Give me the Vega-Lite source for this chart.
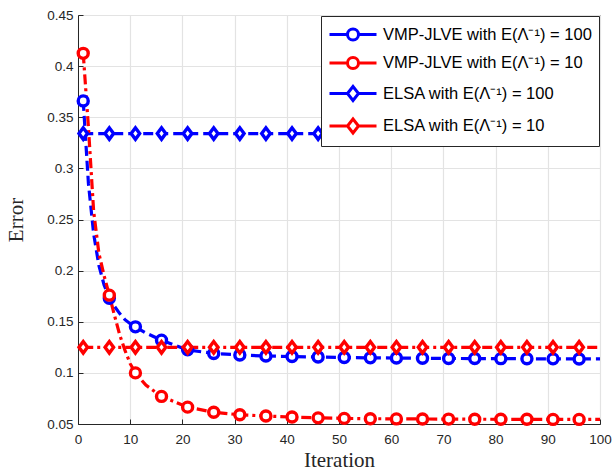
{
  "$schema": "https://vega.github.io/schema/vega-lite/v6.json",
  "autosize": "none",
  "width": 522,
  "height": 409,
  "padding": {"left": 78, "top": 15, "right": 14, "bottom": 49},
  "background": "white",
  "config": {
    "view": {"stroke": "#262626", "strokeWidth": 1},
    "font": "Liberation Sans"
  },
  "data": {
    "values": [
      {"it": 1, "err": 0.366, "s": "a", "m": 1},
      {"it": 2, "err": 0.285, "s": "a", "m": 0},
      {"it": 3, "err": 0.236, "s": "a", "m": 0},
      {"it": 4, "err": 0.205, "s": "a", "m": 0},
      {"it": 5, "err": 0.186, "s": "a", "m": 0},
      {"it": 6, "err": 0.173, "s": "a", "m": 1},
      {"it": 7, "err": 0.165, "s": "a", "m": 0},
      {"it": 8, "err": 0.158, "s": "a", "m": 0},
      {"it": 9, "err": 0.152, "s": "a", "m": 0},
      {"it": 10, "err": 0.148, "s": "a", "m": 0},
      {"it": 11, "err": 0.145, "s": "a", "m": 1},
      {"it": 13, "err": 0.139, "s": "a", "m": 0},
      {"it": 16, "err": 0.132, "s": "a", "m": 1},
      {"it": 21, "err": 0.1225, "s": "a", "m": 1},
      {"it": 26, "err": 0.119, "s": "a", "m": 1},
      {"it": 31, "err": 0.1175, "s": "a", "m": 1},
      {"it": 36, "err": 0.1165, "s": "a", "m": 1},
      {"it": 41, "err": 0.116, "s": "a", "m": 1},
      {"it": 46, "err": 0.1155, "s": "a", "m": 1},
      {"it": 51, "err": 0.115, "s": "a", "m": 1},
      {"it": 56, "err": 0.1147, "s": "a", "m": 1},
      {"it": 61, "err": 0.1145, "s": "a", "m": 1},
      {"it": 66, "err": 0.1143, "s": "a", "m": 1},
      {"it": 71, "err": 0.1141, "s": "a", "m": 1},
      {"it": 76, "err": 0.114, "s": "a", "m": 1},
      {"it": 81, "err": 0.1139, "s": "a", "m": 1},
      {"it": 86, "err": 0.1138, "s": "a", "m": 1},
      {"it": 91, "err": 0.1137, "s": "a", "m": 1},
      {"it": 96, "err": 0.1136, "s": "a", "m": 1},
      {"it": 100, "err": 0.1136, "s": "a", "m": 0},

      {"it": 1, "err": 0.4125, "s": "b", "m": 1},
      {"it": 2, "err": 0.34, "s": "b", "m": 0},
      {"it": 3, "err": 0.258, "s": "b", "m": 0},
      {"it": 4, "err": 0.217, "s": "b", "m": 0},
      {"it": 5, "err": 0.195, "s": "b", "m": 0},
      {"it": 6, "err": 0.176, "s": "b", "m": 1},
      {"it": 7, "err": 0.156, "s": "b", "m": 0},
      {"it": 8, "err": 0.137, "s": "b", "m": 0},
      {"it": 9, "err": 0.122, "s": "b", "m": 0},
      {"it": 10, "err": 0.109, "s": "b", "m": 0},
      {"it": 11, "err": 0.1, "s": "b", "m": 1},
      {"it": 13, "err": 0.088, "s": "b", "m": 0},
      {"it": 16, "err": 0.077, "s": "b", "m": 1},
      {"it": 21, "err": 0.0665, "s": "b", "m": 1},
      {"it": 26, "err": 0.0615, "s": "b", "m": 1},
      {"it": 31, "err": 0.059, "s": "b", "m": 1},
      {"it": 36, "err": 0.0578, "s": "b", "m": 1},
      {"it": 41, "err": 0.0568, "s": "b", "m": 1},
      {"it": 46, "err": 0.056, "s": "b", "m": 1},
      {"it": 51, "err": 0.0555, "s": "b", "m": 1},
      {"it": 56, "err": 0.0552, "s": "b", "m": 1},
      {"it": 61, "err": 0.055, "s": "b", "m": 1},
      {"it": 66, "err": 0.0549, "s": "b", "m": 1},
      {"it": 71, "err": 0.0548, "s": "b", "m": 1},
      {"it": 76, "err": 0.0547, "s": "b", "m": 1},
      {"it": 81, "err": 0.0546, "s": "b", "m": 1},
      {"it": 86, "err": 0.0546, "s": "b", "m": 1},
      {"it": 91, "err": 0.0545, "s": "b", "m": 1},
      {"it": 96, "err": 0.0545, "s": "b", "m": 1},
      {"it": 100, "err": 0.0545, "s": "b", "m": 0},

      {"it": 1, "err": 0.334, "s": "c", "m": 1},
      {"it": 6, "err": 0.334, "s": "c", "m": 1},
      {"it": 11, "err": 0.334, "s": "c", "m": 1},
      {"it": 16, "err": 0.334, "s": "c", "m": 1},
      {"it": 21, "err": 0.334, "s": "c", "m": 1},
      {"it": 26, "err": 0.334, "s": "c", "m": 1},
      {"it": 31, "err": 0.334, "s": "c", "m": 1},
      {"it": 36, "err": 0.334, "s": "c", "m": 1},
      {"it": 41, "err": 0.334, "s": "c", "m": 1},
      {"it": 46, "err": 0.334, "s": "c", "m": 1},
      {"it": 51, "err": 0.334, "s": "c", "m": 1},
      {"it": 56, "err": 0.334, "s": "c", "m": 1},
      {"it": 61, "err": 0.334, "s": "c", "m": 1},
      {"it": 66, "err": 0.334, "s": "c", "m": 1},
      {"it": 71, "err": 0.334, "s": "c", "m": 1},
      {"it": 76, "err": 0.334, "s": "c", "m": 1},
      {"it": 81, "err": 0.334, "s": "c", "m": 1},
      {"it": 86, "err": 0.334, "s": "c", "m": 1},
      {"it": 91, "err": 0.334, "s": "c", "m": 1},
      {"it": 96, "err": 0.334, "s": "c", "m": 1},
      {"it": 100, "err": 0.334, "s": "c", "m": 0},

      {"it": 1, "err": 0.125, "s": "d", "m": 1},
      {"it": 6, "err": 0.125, "s": "d", "m": 1},
      {"it": 11, "err": 0.125, "s": "d", "m": 1},
      {"it": 16, "err": 0.125, "s": "d", "m": 1},
      {"it": 21, "err": 0.125, "s": "d", "m": 1},
      {"it": 26, "err": 0.125, "s": "d", "m": 1},
      {"it": 31, "err": 0.125, "s": "d", "m": 1},
      {"it": 36, "err": 0.125, "s": "d", "m": 1},
      {"it": 41, "err": 0.125, "s": "d", "m": 1},
      {"it": 46, "err": 0.125, "s": "d", "m": 1},
      {"it": 51, "err": 0.125, "s": "d", "m": 1},
      {"it": 56, "err": 0.125, "s": "d", "m": 1},
      {"it": 61, "err": 0.125, "s": "d", "m": 1},
      {"it": 66, "err": 0.125, "s": "d", "m": 1},
      {"it": 71, "err": 0.125, "s": "d", "m": 1},
      {"it": 76, "err": 0.125, "s": "d", "m": 1},
      {"it": 81, "err": 0.125, "s": "d", "m": 1},
      {"it": 86, "err": 0.125, "s": "d", "m": 1},
      {"it": 91, "err": 0.125, "s": "d", "m": 1},
      {"it": 96, "err": 0.125, "s": "d", "m": 1},
      {"it": 100, "err": 0.125, "s": "d", "m": 0}
    ]
  },
  "encoding": {
    "x": {
      "field": "it", "type": "quantitative",
      "scale": {"domain": [0, 100], "nice": false, "zero": false},
      "axis": {
        "title": "Iteration", "titleFont": "Liberation Serif", "titleFontSize": 21, "titleFontWeight": "normal",
        "titleColor": "#262626", "titlePadding": 4,
        "values": [0, 10, 20, 30, 40, 50, 60, 70, 80, 90, 100],
        "labelFont": "Liberation Sans", "labelFontSize": 13.5, "labelColor": "#262626", "labelPadding": 13,
        "tickSize": -5, "tickColor": "#262626", "domainColor": "#262626",
        "gridColor": "#e3e3e3", "gridWidth": 1.2, "labelFlush": false
      }
    },
    "y": {
      "field": "err", "type": "quantitative",
      "scale": {"domain": [0.05, 0.45], "nice": false, "zero": false},
      "axis": {
        "title": "Error", "titleFont": "Liberation Serif", "titleFontSize": 21, "titleFontWeight": "normal",
        "titleColor": "#262626", "titlePadding": 20,
        "values": [0.05, 0.1, 0.15, 0.2, 0.25, 0.3, 0.35, 0.4, 0.45],
        "labelExpr": "format(datum.value, '.2~f')",
        "labelFont": "Liberation Sans", "labelFontSize": 13.5, "labelColor": "#262626", "labelPadding": 10,
        "tickSize": -5, "tickColor": "#262626", "domainColor": "#262626",
        "gridColor": "#e3e3e3", "gridWidth": 1.2, "labelFlush": false
      }
    },
    "color": {
      "field": "s", "type": "nominal",
      "scale": {"domain": ["a", "b", "c", "d"], "range": ["#0000ff", "#ff0000", "#0000ff", "#ff0000"]},
      "legend": {
        "title": null,
        "orient": "top-right",
        "offset": 1,
        "padding": 7,
        "strokeColor": "#262626",
        "fillColor": "white",
        "labelFont": "Liberation Sans",
        "labelFontSize": 16.5,
        "labelColor": "#000000",
        "labelLimit": 400,
        "rowPadding": 5.5,
        "symbolSize": 400,
        "symbolStrokeWidth": 3,
        "symbolDash": [],
        "symbolFillColor": "white",
        "symbolType": {"expr": "datum.value == 'a' || datum.value == 'b' ? 'M-1,0H0.8M1.9,0H3.7M0.8,0A0.55,0.55 0 1,0 1.9,0A0.55,0.55 0 1,0 0.8,0' : 'M-1,0H0.8M1.9,0H3.7M0.8,0L1.35,-0.7L1.9,0L1.35,0.7Z'"},
        "labelOffset": 32,
        "labelExpr": "datum.value == 'a' ? 'VMP-JLVE with E(Λ⁻¹) = 100' : datum.value == 'b' ? 'VMP-JLVE with E(Λ⁻¹) = 10' : datum.value == 'c' ? 'ELSA with E(Λ⁻¹) = 100' : 'ELSA with E(Λ⁻¹) = 10'"
      }
    }
  },
  "layer": [
    {
      "transform": [{"filter": "datum.s == 'a' || datum.s == 'c'"}],
      "mark": {"type": "line", "strokeWidth": 3.2, "clip": true, "strokeDash": [10, 5]}
    },
    {
      "transform": [{"filter": "datum.s == 'b' || datum.s == 'd'"}],
      "mark": {"type": "line", "strokeWidth": 3.2, "clip": true, "strokeDash": [10, 4, 3, 4]}
    },
    {
      "transform": [{"filter": "datum.m == 1 && (datum.s == 'a' || datum.s == 'b')"}],
      "mark": {"type": "point", "shape": "circle", "filled": false, "fill": "white", "strokeWidth": 3.4, "size": 100, "opacity": 1, "clip": false}
    },
    {
      "transform": [{"filter": "datum.m == 1 && (datum.s == 'c' || datum.s == 'd')"}],
      "mark": {"type": "point", "shape": "M-0.85,0L0,-1.15L0.85,0L0,1.15Z", "filled": false, "fill": "white", "strokeWidth": 3.4, "size": 100, "opacity": 1, "clip": false}
    }
  ]
}
